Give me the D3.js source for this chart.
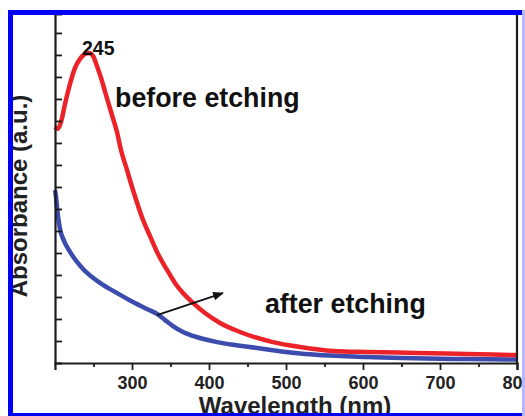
<!DOCTYPE html>
<html><head><meta charset="utf-8">
<script src="https://cdn.jsdelivr.net/npm/d3@7"></script>
<style>html,body{margin:0;padding:0;background:#fff;}svg{display:block;}</style>
</head><body>
<script>
// Wavelength (nm) and absorbance (a.u.)
const redWave = [200,203.9,207.8,213,219.5,226,232.5,239,244,249.4,254.5,261,266.2,274,280.5,285.7,293.5,301.3,314.3,323.4,333.8,345.5,355.8,366.2,379.2,394.8,414.3,440.3,483.1,518.2,561,605.2,670,735,800];
const redAbs  = [10.73,10.64,10.95,11.77,12.68,13.41,13.82,14.05,14.09,13.95,13.5,12.82,12.18,11.27,10.5,9.68,8.77,7.86,6.5,5.77,4.95,4.23,3.64,3.18,2.73,2.27,1.82,1.41,0.95,0.73,0.55,0.5,0.46,0.41,0.36];
const blueWave = [200,201.3,202.6,203.9,206.5,211.7,219.5,228.6,236.4,258.4,280.5,301.3,319.5,332.5,342.9,353.2,366.2,379.2,410.4,453.2,518.2,605.2,735,800];
const blueAbs  = [7.86,7.55,7.09,6.68,6.09,5.55,5.05,4.59,4.27,3.64,3.18,2.77,2.45,2.23,1.95,1.68,1.41,1.23,0.95,0.73,0.43,0.27,0.18,0.16];
const xMajorTicks = [300,400,500,600,700,800];
const xMinorTicks = [250,350,450,550,650,750];
const yTicks = [1,2,3,4,5,6,7,8,9,10,11,12,13,14,15];
const arrowWave = [332.5, 418];
const arrowAbs  = [2.18, 3.18];
const peakLabel = {text:"245", wave:235, abs:14.0};
const seriesLabels = [
  {text:"before etching", wave:278, abs:11.64},
  {text:"after etching", wave:472.7, abs:2.27}
];

const W = 525, H = 416;
const svg = d3.select("body").append("svg").attr("width", W).attr("height", H);
svg.append("rect").attr("width", W).attr("height", H).attr("fill", "#fff");

const x = d3.scaleLinear().domain([200, 800]).range([55, 517]);
const y = d3.scaleLinear().domain([0, 15.86]).range([363, 14]);
const font = "'Liberation Sans', Arial, sans-serif";
const axisCol = "#1c1c1c";

// curves
const line = d3.line().x(d => x(d[0])).y(d => y(d[1])).curve(d3.curveMonotoneX);
svg.append("path").datum(blueWave.map((w,i)=>[w, blueAbs[i]]))
  .attr("d", line).attr("fill","none").attr("stroke","#3b4cae").attr("stroke-width",4.5).attr("stroke-linejoin","round");
svg.append("path").datum(redWave.map((w,i)=>[w, redAbs[i]]))
  .attr("d", line).attr("fill","none").attr("stroke","#ec2229").attr("stroke-width",4.5).attr("stroke-linejoin","round");

// axes
const gx = svg.append("g").attr("transform", `translate(0,${y(0)})`)
  .call(d3.axisBottom(x).tickValues(xMajorTicks).tickSize(7).tickPadding(6).tickFormat(d3.format("d")));
const gxm = svg.append("g").attr("transform", `translate(0,${y(0)})`)
  .call(d3.axisBottom(x).tickValues(xMinorTicks).tickSize(4).tickFormat(""));
gxm.select(".domain").remove();
const gy = svg.append("g").attr("transform", `translate(${x(200)},0)`)
  .call(d3.axisLeft(y).tickValues(yTicks).tickSize(-7).tickFormat(""));
// right spine
svg.append("line").attr("x1", x(800)).attr("x2", x(800)).attr("y1", y.range()[1]).attr("y2", y(0))
  .attr("stroke", axisCol).attr("stroke-width", 2.2);
[gx, gxm, gy].forEach(g => {
  g.selectAll(".domain").attr("stroke", axisCol).attr("stroke-width", 2.2);
  g.selectAll(".tick line").attr("stroke", axisCol).attr("stroke-width", 1.8);
});
gx.selectAll(".tick text").attr("font-family", font).attr("font-weight","bold").attr("font-size", 18).attr("fill","#222");

// axis titles
svg.append("text").attr("x", 295).attr("y", 414).attr("text-anchor","middle")
  .attr("font-family", font).attr("font-weight","bold").attr("font-size",24).attr("fill","#222")
  .text("Wavelength (nm)");
svg.append("text").attr("transform","translate(27,196) rotate(-90)").attr("text-anchor","middle")
  .attr("font-family", font).attr("font-weight","bold").attr("font-size",24).attr("fill","#222")
  .text("Absorbance (a.u.)");

// arrow
const defs = svg.append("defs");
defs.append("marker").attr("id","ah").attr("viewBox","0 0 10 10").attr("refX",9).attr("refY",5)
  .attr("markerWidth",6).attr("markerHeight",6).attr("orient","auto")
  .append("path").attr("d","M0,1 L10,5 L0,9 Z").attr("fill","#111");
svg.append("line").attr("x1", x(arrowWave[0])).attr("y1", y(arrowAbs[0]))
  .attr("x2", x(arrowWave[1])).attr("y2", y(arrowAbs[1]))
  .attr("stroke","#111").attr("stroke-width",1.8).attr("marker-end","url(#ah)");

// labels
svg.append("text").attr("x", x(peakLabel.wave)).attr("y", y(peakLabel.abs))
  .attr("font-family", font).attr("font-weight","bold").attr("font-size",19.5).attr("fill","#111").text(peakLabel.text);
seriesLabels.forEach(l => {
  svg.append("text").attr("x", x(l.wave)).attr("y", y(l.abs))
    .attr("font-family", font).attr("font-weight","bold").attr("font-size",26.8).attr("fill","#111").text(l.text);
});

// blue frame
svg.append("rect").attr("x",8).attr("y",10).attr("width",W-8).attr("height",5).attr("fill","#0000f5");
svg.append("rect").attr("x",8).attr("y",10).attr("width",5).attr("height",H-10).attr("fill","#0000f5");
svg.append("rect").attr("x",8).attr("y",413).attr("width",W-8).attr("height",3).attr("fill","#0000f5");
svg.append("rect").attr("x",522).attr("y",10).attr("width",3).attr("height",H-10).attr("fill","#b8b8ff");
</script>
</body></html>
